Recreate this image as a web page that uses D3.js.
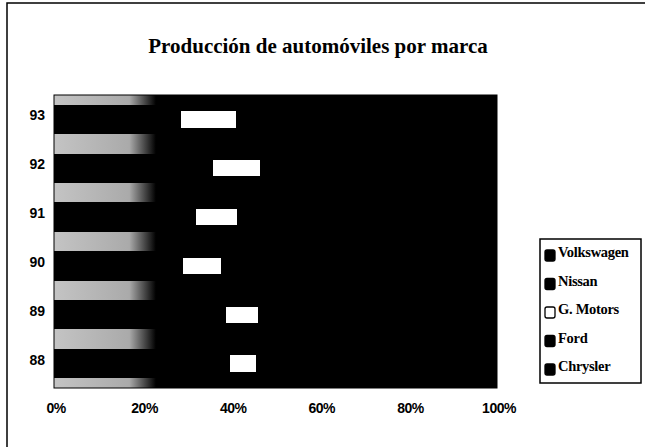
<!DOCTYPE html>
<html><head><meta charset="utf-8">
<script src="https://cdn.jsdelivr.net/npm/d3@7"></script>
<style>body{margin:0;background:#fff}</style>
</head><body>
<script>
const categories = ["93","92","91","90","89","88"];
const seriesNames = ["Volkswagen","Nissan","G. Motors","Ford","Chrysler"];
const volkswagen = [15.5,20.0,18.1,16.2,21.9,22.8];
const nissan     = [13.2,16.0,14.0,13.0,17.0,17.0];
const gMotors    = [12.3,10.4, 9.3, 8.4, 7.1, 5.9];
const ford       = [30.0,28.6,30.6,32.4,28.0,27.3];
const chrysler   = [29.0,25.0,28.0,30.0,26.0,27.0];
const xTicks = [0,20,40,60,80,100];
const colors = ["#000","#000","#ffffff","#000","#000"];

const W=645,H=447;
const svg=d3.select("body").append("svg").attr("width",W).attr("height",H);
svg.append("rect").attr("x",7).attr("y",3).attr("width",W).attr("height",H)
  .attr("fill","#fff").attr("stroke","#000").attr("stroke-width",1.5);

const m={l:54,r:497,t:95,b:388};
const x=d3.scaleLinear().domain([0,100]).range([m.l,m.r]);
const y=d3.scaleBand().domain(categories).range([m.t,m.b]).paddingInner(0.4).paddingOuter(0.2);

const defs=svg.append("defs");
const g=defs.append("linearGradient").attr("id","bg").attr("x1","0").attr("x2","1").attr("y1","0").attr("y2","0");
g.append("stop").attr("offset","0").attr("stop-color","#c4c4c4");
g.append("stop").attr("offset","0.17").attr("stop-color","#aaaaaa");
g.append("stop").attr("offset","0.23").attr("stop-color","#000");
g.append("stop").attr("offset","1").attr("stop-color","#000");

svg.append("rect").attr("x",m.l).attr("y",m.t).attr("width",m.r-m.l).attr("height",m.b-m.t)
  .attr("fill","url(#bg)").attr("stroke","#000");

const rows=categories.map((c,i)=>({cat:c,Volkswagen:volkswagen[i],Nissan:nissan[i],"G. Motors":gMotors[i],Ford:ford[i],Chrysler:chrysler[i]}));
const stack=d3.stack().keys(seriesNames)(rows);
stack.forEach((s,k)=>{
  const inner = seriesNames[k]==="G. Motors";
  svg.append("g").attr("shape-rendering","crispEdges").selectAll("rect").data(s).join("rect")
    .attr("x",d=>x(d[0])).attr("width",d=>x(d[1])-x(d[0]))
    .attr("y",d=>y(d.data.cat)+(inner?y.bandwidth()*0.22:0))
    .attr("height",d=>inner?y.bandwidth()*0.56:y.bandwidth())
    .attr("fill",colors[k]);
});

// axes
svg.append("g").selectAll("text").data(xTicks).join("text")
  .attr("x",d=>x(d)+2).attr("y",413).attr("text-anchor","middle")
  .attr("font-family","Liberation Sans, Arial").attr("font-weight","bold").attr("font-size",14)
  .attr("letter-spacing","-0.5")
  .text(d=>d+"%");
svg.append("g").selectAll("text").data(categories).join("text")
  .attr("x",45).attr("y",d=>y(d)+y.bandwidth()/2+1).attr("text-anchor","end")
  .attr("font-family","Liberation Sans, Arial").attr("font-weight","bold").attr("font-size",14)
  .text(d=>d);

svg.append("text").attr("x",318).attr("y",53).attr("text-anchor","middle")
  .attr("font-family","Liberation Serif, Times New Roman").attr("font-weight","bold").attr("font-size",21)
  .text("Producción de automóviles por marca");

// legend
const lg=svg.append("g");
lg.append("rect").attr("x",540).attr("y",239).attr("width",101).attr("height",144)
  .attr("fill","#fff").attr("stroke","#000").attr("stroke-width",1.5);
seriesNames.forEach((n,i)=>{
  const yy=253+i*28.5;
  lg.append("rect").attr("x",545).attr("y",yy-3).attr("width",10).attr("height",11).attr("rx",2)
    .attr("fill",colors[i]).attr("stroke","#000").attr("stroke-width",1.3);
  lg.append("text").attr("x",558).attr("y",yy+4)
    .attr("font-family","Liberation Serif, Times New Roman").attr("font-weight","bold").attr("font-size",14.5)
    .attr("letter-spacing","-0.3")
    .text(n);
});
</script>
</body></html>
